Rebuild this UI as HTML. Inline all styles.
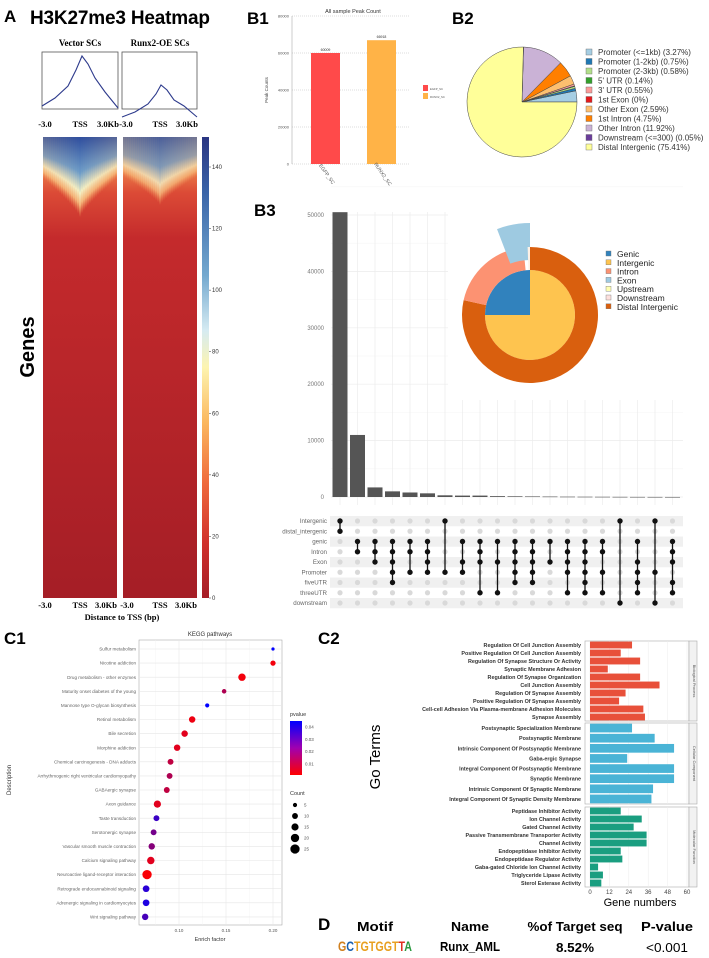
<!DOCTYPE html>
<html><head><meta charset="utf-8"><style>
html,body{margin:0;padding:0;background:#fff;}
svg{display:block;font-family:"Liberation Sans",sans-serif;}
</style></head><body>
<svg id="fig" width="709" height="958" viewBox="0 0 709 958" xmlns="http://www.w3.org/2000/svg">
<defs>
<linearGradient id="hmBase" x1="0" y1="0" x2="0" y2="1">
<stop offset="0" stop-color="#f6c27a"/><stop offset="0.06" stop-color="#ef8a4e"/><stop offset="0.12" stop-color="#dc4b36"/><stop offset="0.22" stop-color="#c42a2c"/><stop offset="1" stop-color="#a51e26"/></linearGradient>
<linearGradient id="hmTop" x1="0" y1="0" x2="0" y2="1">
<stop offset="0" stop-color="#2f4e9e"/><stop offset="0.45" stop-color="#6d9cc8"/><stop offset="0.7" stop-color="#f3f0c4"/><stop offset="0.85" stop-color="#fbd08a" stop-opacity="0.8"/><stop offset="1" stop-color="#f4a060" stop-opacity="0"/></linearGradient>
<linearGradient id="cbar" x1="0" y1="0" x2="0" y2="1">
<stop offset="0" stop-color="#2a3582"/><stop offset="0.12" stop-color="#3a64a8"/><stop offset="0.3" stop-color="#74a9cf"/><stop offset="0.42" stop-color="#d6ebf2"/><stop offset="0.5" stop-color="#fdf4b0"/><stop offset="0.62" stop-color="#fbb75e"/><stop offset="0.75" stop-color="#ef6a3c"/><stop offset="0.88" stop-color="#d0312d"/><stop offset="1" stop-color="#a51d26"/></linearGradient>
<linearGradient id="pbar" x1="0" y1="0" x2="0" y2="1">
<stop offset="0" stop-color="#0000ff"/><stop offset="0.5" stop-color="#a000b0"/><stop offset="1" stop-color="#ff0000"/></linearGradient>
<clipPath id="clipL"><rect x="43" y="137" width="74" height="461"/></clipPath>
<clipPath id="clipR"><rect x="123" y="137" width="74" height="461"/></clipPath>
</defs>

<!-- Panel A -->
<text x="4" y="22" font-size="17" font-weight="bold">A</text>
<text x="30" y="24" font-size="19" font-weight="bold" textLength="180">H3K27me3 Heatmap</text>
<text x="80" y="46" font-size="9" font-weight="bold" font-family="Liberation Serif,serif" text-anchor="middle">Vector SCs</text>
<text x="160" y="46" font-size="9" font-weight="bold" font-family="Liberation Serif,serif" text-anchor="middle">Runx2-OE SCs</text>
<rect x="42" y="52" width="76" height="57" fill="none" stroke="#555" stroke-width="0.8"/>
<rect x="122" y="52" width="75" height="57" fill="none" stroke="#555" stroke-width="0.8"/>
<polyline points="42,106 55,98 68,86 76,70 82,56 88,64 95,78 105,92 118,108" fill="none" stroke="#2d3a8c" stroke-width="1.1"/>
<polyline points="122,117 135,112 148,104 156,94 161,85 167,90 174,100 184,106 197,117" fill="none" stroke="#2d3a8c" stroke-width="1.1"/>
<g font-family="Liberation Serif,serif" font-weight="bold" font-size="8.5">
<text x="45" y="127" text-anchor="middle">-3.0</text><text x="80" y="127" text-anchor="middle">TSS</text><text x="108" y="127" text-anchor="middle">3.0Kb</text>
<text x="126" y="127" text-anchor="middle">-3.0</text><text x="160" y="127" text-anchor="middle">TSS</text><text x="187" y="127" text-anchor="middle">3.0Kb</text>
</g>
<g id="heatL" clip-path="url(#clipL)"><rect x="43" y="137" width="74" height="461" fill="url(#hmBase)"/></g>
<g id="heatR" clip-path="url(#clipR)"><rect x="123" y="137" width="74" height="461" fill="url(#hmBase)"/></g>
<rect x="202" y="137" width="7" height="461" fill="url(#cbar)"/>
<g id="cbTicks" font-size="6" fill="#333"></g>
<text x="34" y="347" font-size="20" font-weight="bold" text-anchor="middle" transform="rotate(-90 34 347)">Genes</text>
<g font-family="Liberation Serif,serif" font-weight="bold" font-size="8.5">
<text x="45" y="608" text-anchor="middle">-3.0</text><text x="80" y="608" text-anchor="middle">TSS</text><text x="106" y="608" text-anchor="middle">3.0Kb</text>
<text x="127" y="608" text-anchor="middle">-3.0</text><text x="160" y="608" text-anchor="middle">TSS</text><text x="186" y="608" text-anchor="middle">3.0Kb</text>
</g>
<text x="122" y="620" font-family="Liberation Serif,serif" font-weight="bold" font-size="8.5" text-anchor="middle">Distance to TSS (bp)</text>

<!-- Panel B1 -->
<text x="247" y="24" font-size="17" font-weight="bold">B1</text>
<text x="353" y="13" font-size="5.5" fill="#333" text-anchor="middle">All sample Peak Count</text>
<g id="b1"></g>
<text x="268" y="90" font-size="4.5" fill="#444" text-anchor="middle" transform="rotate(-90 268 90)">Peak Counts</text>

<!-- Panel B2 -->
<text x="452" y="24" font-size="17" font-weight="bold">B2</text>
<g id="b2"></g>
<g id="b2leg" font-size="8" fill="#333"></g>

<!-- Panel B3 -->
<text x="254" y="216" font-size="17" font-weight="bold">B3</text>
<g id="b3"></g>

<!-- Panel C1 -->
<text x="4" y="644" font-size="17" font-weight="bold">C1</text>
<text x="210" y="636" font-size="6" fill="#333" text-anchor="middle">KEGG pathways</text>
<g id="c1"></g>
<text x="11" y="780" font-size="6" fill="#333" text-anchor="middle" transform="rotate(-90 11 780)">Description</text>
<text x="210" y="941" font-size="5.5" fill="#333" text-anchor="middle">Enrich factor</text>

<!-- Panel C2 -->
<text x="318" y="644" font-size="17" font-weight="bold">C2</text>
<g id="c2"></g>
<text x="380" y="757" font-size="15" text-anchor="middle" transform="rotate(-90 380 757)">Go Terms</text>
<text x="640" y="906" font-size="11" text-anchor="middle">Gene numbers</text>

<!-- Panel D -->
<text x="318" y="930" font-size="17" font-weight="bold">D</text>
<g font-size="12.5" font-weight="bold" text-anchor="middle">
<text x="375" y="931" textLength="36" lengthAdjust="spacingAndGlyphs">Motif</text>
<text x="470" y="931" textLength="38" lengthAdjust="spacingAndGlyphs">Name</text>
<text x="575" y="931" textLength="95" lengthAdjust="spacingAndGlyphs">%of Target seq</text>
<text x="667" y="931" textLength="52" lengthAdjust="spacingAndGlyphs">P-value</text>
</g>
<g font-size="12.5" text-anchor="middle">
<text x="375" y="951" font-size="14" font-weight="bold" fill="#e8a020" textLength="74" lengthAdjust="spacingAndGlyphs"><tspan fill="#d08020">G</tspan><tspan fill="#1a60b0">C</tspan><tspan fill="#e8a020">TGTGGT</tspan><tspan fill="#e03020">T</tspan><tspan fill="#2a9a40">A</tspan></text>
<text x="470" y="951" font-weight="bold" textLength="60" lengthAdjust="spacingAndGlyphs">Runx_AML</text>
<text x="575" y="952" font-weight="bold" textLength="38" lengthAdjust="spacingAndGlyphs">8.52%</text>
<text x="667" y="952" textLength="42" lengthAdjust="spacingAndGlyphs">&lt;0.001</text>
</g>
</svg>
<script>
// ---- data ----
const cbTickVals=[0,20,40,60,80,100,120,140];
const b1Cats=["EGFP_SC","RUNX2_SC"];
const b1Vals=[60009,66918];
const b1Ticks=[0,20000,40000,60000,80000];
const b2Labels=["Promoter (<=1kb) (3.27%)","Promoter (1-2kb) (0.75%)","Promoter (2-3kb) (0.58%)","5' UTR (0.14%)","3' UTR (0.55%)","1st Exon (0%)","Other Exon (2.59%)","1st Intron (4.75%)","Other Intron (11.92%)","Downstream (<=300) (0.05%)","Distal Intergenic (75.41%)"];
const b2Vals=[3.27,0.75,0.58,0.14,0.55,0,2.59,4.75,11.92,0.05,75.41];
const b3Vals=[50500,11000,1700,1000,800,650,300,250,250,150,120,100,80,60,50,40,30,20,15,10];
const b3Ticks=[0,10000,20000,30000,40000,50000];
const b3Sets=["Intergenic","distal_intergenic","genic","Intron","Exon","Promoter","fiveUTR","threeUTR","downstream"];
const b3Combos=[[0,1],[2,3],[2,3,4],[2,3,4,5,6],[2,3,5],[2,3,4,5],[0,5],[2,4,5],[2,3,4,7],[2,4,7],[2,3,4,5,6],[2,3,4,5,6],[2,4],[2,3,4,5,7],[2,3,4,5,6,7],[2,3,5,7],[0,8],[2,4,5,6,7],[0,5,8],[2,3,4,6,7]];
const donutLabels=["Genic","Intergenic","Intron","Exon","Upstream","Downstream","Distal Intergenic"];
const donutInner=[25,75];
const donutOuter=[78.5,20.5,1];
const c1Terms=["Sulfur metabolism","Nicotine addiction","Drug metabolism - other enzymes","Maturity onset diabetes of the young","Mannose type O-glycan biosynthesis","Retinol metabolism","Bile secretion","Morphine addiction","Chemical carcinogenesis - DNA adducts","Arrhythmogenic right ventricular cardiomyopathy","GABAergic synapse","Axon guidance","Taste transduction","Serotonergic synapse","Vascular smooth muscle contraction","Calcium signaling pathway","Neuroactive ligand-receptor interaction","Retrograde endocannabinoid signaling","Adrenergic signaling in cardiomyocytes","Wnt signaling pathway"];
const c1Enrich=[0.200,0.200,0.167,0.148,0.130,0.114,0.106,0.098,0.091,0.090,0.087,0.077,0.076,0.073,0.071,0.070,0.066,0.065,0.065,0.064];
const c1Count=[3,8,16,6,5,12,12,12,10,10,10,15,10,10,12,16,25,13,13,12];
const c1P=[0.045,0.003,0.003,0.015,0.045,0.004,0.006,0.006,0.012,0.015,0.012,0.006,0.035,0.025,0.022,0.006,0.002,0.038,0.040,0.033];
const c1XTicks=[0.10,0.15,0.20];
const c1PTicks=[0.01,0.02,0.03,0.04];
const c1CountTicks=[5,10,15,20,25];
const bpTerms=["Regulation Of Cell Junction Assembly","Positive Regulation Of Cell Junction Assembly","Regulation Of Synapse Structure Or Activity","Synaptic Membrane Adhesion","Regulation Of Synapse Organization","Cell Junction Assembly","Regulation Of Synapse Assembly","Positive Regulation Of Synapse Assembly","Cell-cell Adhesion Via Plasma-membrane Adhesion Molecules","Synapse Assembly"];
const bpVals=[26,19,31,11,31,43,22,18,33,34];
const ccTerms=["Postsynaptic Specialization Membrane","Postsynaptic Membrane","Intrinsic Component Of Postsynaptic Membrane","Gaba-ergic Synapse","Integral Component Of Postsynaptic Membrane","Synaptic Membrane","Intrinsic Component Of Synaptic Membrane","Integral Component Of Synaptic Density Membrane"];
const ccVals=[26,40,52,23,52,52,39,38];
const mfTerms=["Peptidase Inhibitor Activity","Ion Channel Activity","Gated Channel Activity","Passive Transmembrane Transporter Activity","Channel Activity","Endopeptidase Inhibitor Activity","Endopeptidase Regulator Activity","Gaba-gated Chloride Ion Channel Activity","Triglyceride Lipase Activity","Sterol Esterase Activity"];
const mfVals=[19,32,27,35,35,19,20,5,8,7];
const c2Ticks=[0,12,24,36,48,60];

const NS="http://www.w3.org/2000/svg";
function mk(parent,tag,attrs,text){const e=document.createElementNS(NS,tag);for(const k in attrs)e.setAttribute(k,attrs[k]);if(text!==undefined)e.textContent=text;parent.appendChild(e);return e;}
const $=id=>document.getElementById(id);

// ---- heatmap overlays ----
function heatOverlay(g,x0,depthC,depthE,op){
  for(let i=0;i<37;i++){
    const d=Math.abs(i-18)/18;
    const h=depthC-(depthC-depthE)*Math.pow(d,0.8);
    const r=mk(g,"rect",{x:x0+i*2,y:137,width:2.1,height:h,fill:"url(#hmTop)",opacity:op-0.2*d});
    
    
  }
}
heatOverlay($("heatL"),43,80,42,1);
heatOverlay($("heatR"),123,68,40,0.85);
const cbY=v=>598-v*(598-167)/140;
cbTickVals.forEach(v=>{
  const t=mk($("cbTicks"),"text",{x:212,y:cbY(v)+2},String(v));
  
  
  mk($("cbTicks"),"line",{x1:209,x2:211,y1:cbY(v),y2:cbY(v),stroke:"#333","stroke-width":0.5});
});

// ---- B1 ----
(function(){
  const g=$("b1");
  const y=v=>164-v*(164-16)/80000;
  b1Ticks.forEach(v=>{
    mk(g,"line",{x1:292,x2:410,y1:y(v),y2:y(v),stroke:"#bbb","stroke-width":0.5,"stroke-dasharray":"1,1"});
    const t=mk(g,"text",{x:289,y:y(v)+1.5,"font-size":4,fill:"#555","text-anchor":"end"},String(v));
    
    
  });
  mk(g,"line",{x1:292,x2:292,y1:16,y2:164,stroke:"#999","stroke-width":0.5});
  const cols=["#ff4a4a","#ffb347"];
  const xs=[311,367],w=29;
  b1Vals.forEach((v,i)=>{
    const r=mk(g,"rect",{x:xs[i],y:y(v),width:w,height:164-y(v),fill:cols[i]});
    
    
    const t=mk(g,"text",{x:xs[i]+w/2,y:y(v)-2,"font-size":3.5,fill:"#333","text-anchor":"middle"},String(v));
    
    
    const c=xs[i]+w/2;
    const xl=mk(g,"text",{x:c,y:175,"font-size":5,fill:"#555","text-anchor":"middle",transform:`rotate(55 ${c} 175)`},b1Cats[i]);
    
    
    const lb=mk(g,"rect",{x:423,y:85+i*8,width:5,height:6,fill:cols[i]});
    
    
    const lt=mk(g,"text",{x:430,y:90+i*8,"font-size":2.8,fill:"#555"},b1Cats[i]);
    
    
  });
})();

// ---- B2 ----
(function(){
  const g=$("b2"),cx=522,cy=102,R=55;
  const cols=["#a6cee3","#1f78b4","#b2df8a","#33a02c","#fb9a99","#e31a1c","#fdbf6f","#ff7f00","#cab2d6","#6a3d9a","#ffff99"];
  const tot=b2Vals.reduce((a,b)=>a+b,0);
  let a=0;
  b2Vals.forEach((v,i)=>{
    if(v<=0)return;
    const a1=a,a2=a+v/tot*2*Math.PI;a=a2;
    const p1=[cx+R*Math.cos(a1),cy-R*Math.sin(a1)],p2=[cx+R*Math.cos(a2),cy-R*Math.sin(a2)];
    const big=(a2-a1)>Math.PI?1:0;
    const p=mk(g,"path",{d:`M${cx},${cy}L${p1[0]},${p1[1]}A${R},${R} 0 ${big} 0 ${p2[0]},${p2[1]}Z`,fill:cols[i],stroke:"#444","stroke-width":0.5});
    
    
  });
  const lg=$("b2leg");
  b2Labels.forEach((l,i)=>{
    const yy=52+i*9.5;
    const r=mk(lg,"rect",{x:586,y:yy-3,width:6,height:6,fill:cols[i],stroke:"#666","stroke-width":0.4});
    
    
    const t=mk(lg,"text",{x:598,y:yy+3},l);
    
    
  });
})();

// ---- B3 upset ----
(function(){
  const g=$("b3");
  const y=v=>497-v*(497-215)/50000;
  const x=i=>340+i*17.5;
  // grid
  b3Ticks.forEach(v=>{
    mk(g,"line",{x1:331,x2:683,y1:y(v),y2:y(v),stroke:"#ececec","stroke-width":0.7});
    mk(g,"line",{x1:331,x2:683,y1:y(v+5000),y2:y(v+5000),stroke:"#f4f4f4","stroke-width":0.5});
    const t=mk(g,"text",{x:324,y:y(v)+2,"font-size":6,fill:"#777","text-anchor":"end"},String(v));
    
    
  });
  b3Vals.forEach((v,i)=>mk(g,"line",{x1:x(i),x2:x(i),y1:212,y2:505,stroke:"#ececec","stroke-width":0.7}));
  // white donut backdrop
  mk(g,"rect",{x:448,y:212,width:236,height:188,fill:"#fff"});
  b3Vals.forEach((v,i)=>{
    const r=mk(g,"rect",{x:x(i)-7.5,y:y(v),width:15,height:Math.max(0.6,497-y(v)),fill:"#555"});
    
    
  });
  // matrix
  const ry=j=>521+j*10.25;
  b3Sets.forEach((s,j)=>{
    if(j%2===0)mk(g,"rect",{x:330,y:ry(j)-5,width:353,height:10.25,fill:"#f0f0f0"});
    const t=mk(g,"text",{x:327,y:ry(j)+2,"font-size":6.2,fill:"#666","text-anchor":"end"},s);
    
    
  });
  b3Combos.forEach((c,i)=>{
    b3Sets.forEach((s,j)=>{
      if(!c.includes(j))mk(g,"circle",{cx:x(i),cy:ry(j),r:2.6,fill:"#d9d9d9"});
    });
    const mn=Math.min(...c),mx=Math.max(...c);
    mk(g,"line",{x1:x(i),x2:x(i),y1:ry(mn),y2:ry(mx),stroke:"#111","stroke-width":1.3});
    c.forEach(j=>{
      const d=mk(g,"circle",{cx:x(i),cy:ry(j),r:2.7,fill:"#111"});
      
      
    });
  });
  // donut
  const cx=530,cy=315;
  function arc(r0,r1,a0,a1,fill,name){
    const rad=a=>(a-90)*Math.PI/180;
    const P=(r,a)=>[cx+r*Math.cos(rad(a)),cy+r*Math.sin(rad(a))];
    const big=(a1-a0)>180?1:0;
    const o0=P(r1,a0),o1=P(r1,a1),i1=P(r0,a1),i0=P(r0,a0);
    let d=`M${o0}A${r1},${r1} 0 ${big} 1 ${o1}`;
    d+= r0>0?`L${i1}A${r0},${r0} 0 ${big} 0 ${i0}Z`:`L${cx},${cy}Z`;
    const p=mk(g,"path",{d:d,fill:fill});
    
    
  }
  const tIn=donutInner[0]+donutInner[1];
  let a=0;
  const inCols=["#3182bd","#fec44f"];
  const inStart=-360*donutInner[0]/tIn;
  arc(0,45,inStart,0,inCols[0],'donut-genic');
  arc(0,45,0,360+inStart,inCols[1],'donut-intergenic');
  const tOut=donutOuter.reduce((p,q)=>p+q,0);
  const aDist=360*donutOuter[0]/tOut,aIntr=360*donutOuter[1]/tOut;
  arc(45,68,0,aDist,"#d95f0e",'donut-distal-intergenic');
  arc(45,68,aDist,aDist+aIntr-2,"#fc9272",'donut-intron');
  arc(55,92,-21,0,"#9ecae1",'donut-exon');
  arc(45,68,-2,0,"#fdf1e6",'donut-downstream');
  const lc=["#3182bd","#fec44f","#fc9272","#9ecae1","#ffffb2","#fde0dd","#d95f0e"];
  donutLabels.forEach((l,i)=>{
    const yy=254+i*8.8;
    const r=mk(g,"rect",{x:606,y:yy-3,width:5,height:5,fill:lc[i],stroke:"#777","stroke-width":0.4});
    
    
    const t=mk(g,"text",{x:617,y:yy+3,"font-size":8.5,fill:"#222"},l);
    
    
  });
})();

// ---- C1 ----
function pColor(p){const t=Math.min(1,Math.max(0,(p-0.001)/0.044));return `rgb(${Math.round(255*(1-t))},0,${Math.round(255*t)})`;}
(function(){
  const g=$("c1");
  const x=v=>179+(v-0.10)*940;
  const y=i=>649+i*14.1;
  mk(g,"rect",{x:139,y:640,width:143,height:285,fill:"#fff",stroke:"#999","stroke-width":0.5});
  c1XTicks.forEach(v=>{
    mk(g,"line",{x1:x(v),x2:x(v),y1:640,y2:925,stroke:"#e6e6e6","stroke-width":0.6});
    mk(g,"line",{x1:x(v-0.025),x2:x(v-0.025),y1:640,y2:925,stroke:"#f2f2f2","stroke-width":0.4});
    const t=mk(g,"text",{x:x(v),y:932,"font-size":4.5,fill:"#555","text-anchor":"middle"},v.toFixed(2));
    
    
  });
  c1Terms.forEach((s,i)=>{
    mk(g,"line",{x1:139,x2:282,y1:y(i),y2:y(i),stroke:"#e6e6e6","stroke-width":0.6});
    const t=mk(g,"text",{x:136,y:y(i)+1.6,"font-size":4.6,fill:"#666","text-anchor":"end"},s);
    
    
  });
  c1Terms.forEach((s,i)=>{
    const c=mk(g,"circle",{cx:x(c1Enrich[i]),cy:y(i),r:0.93*Math.sqrt(c1Count[i]),fill:pColor(c1P[i])});
    
    
  });
  const t1=mk(g,"text",{x:290,y:716,"font-size":5.5,fill:"#333"},"pvalue");
  
  
  const cb=mk(g,"rect",{x:290,y:721,width:12,height:54,fill:"url(#pbar)"});
  
  
  c1PTicks.forEach(v=>{
    const yy=775-(v-0.001)/0.044*54;
    const t=mk(g,"text",{x:305,y:yy+1.5,"font-size":4.5,fill:"#555"},v.toFixed(2));
    
    
  });
  const t2=mk(g,"text",{x:290,y:795,"font-size":5.5,fill:"#333"},"Count");
  
  
  c1CountTicks.forEach((v,i)=>{
    const d=mk(g,"circle",{cx:295,cy:805+i*11,r:0.93*Math.sqrt(v),fill:"#000"});
    
    
    const t=mk(g,"text",{x:304,y:806.5+i*11,"font-size":4.5,fill:"#555"},String(v));
    
    
  });
})();

// ---- C2 ----
(function(){
  const g=$("c2");
  const x=v=>590+v*(687-590)/60;
  const facets=[
    {terms:bpTerms,vals:bpVals,y0:641,y1:721,col:"#e8503a",strip:"Biological Process",name:"bp"},
    {terms:ccTerms,vals:ccVals,y0:723,y1:804,col:"#4ab4d6",strip:"Cellular Component",name:"cc"},
    {terms:mfTerms,vals:mfVals,y0:807,y1:887,col:"#1a9e80",strip:"Molecular Function",name:"mf"}];
  facets.forEach(f=>{
    mk(g,"rect",{x:585,y:f.y0,width:104,height:f.y1-f.y0,fill:"#fff",stroke:"#aaa","stroke-width":0.6});
    c2Ticks.forEach(v=>mk(g,"line",{x1:x(v),x2:x(v),y1:f.y0,y2:f.y1,stroke:"#ececec","stroke-width":0.5}));
    mk(g,"rect",{x:689,y:f.y0,width:8,height:f.y1-f.y0,fill:"#f2f2f2",stroke:"#aaa","stroke-width":0.6});
    const cy=(f.y0+f.y1)/2;
    const st=mk(g,"text",{x:693,y:cy,"font-size":4,fill:"#555","text-anchor":"middle",transform:`rotate(90 693 ${cy})`},f.strip);
    
    
    const n=f.terms.length,step=(f.y1-f.y0)/n;
    f.terms.forEach((s,i)=>{
      const yy=f.y0+step*(i+0.5);
      const r=mk(g,"rect",{x:x(0),y:yy-step*0.43,width:x(f.vals[i])-x(0),height:step*0.86,fill:f.col});
      
      
      const t=mk(g,"text",{x:581,y:yy+2,"font-size":5.4,"font-weight":"bold",fill:"#333","text-anchor":"end"},s);
      
      
    });
  });
  c2Ticks.forEach(v=>{
    const t=mk(g,"text",{x:x(v),y:894,"font-size":6,fill:"#444","text-anchor":"middle"},String(v));
    
    
  });
})();
</script>
</body></html>
